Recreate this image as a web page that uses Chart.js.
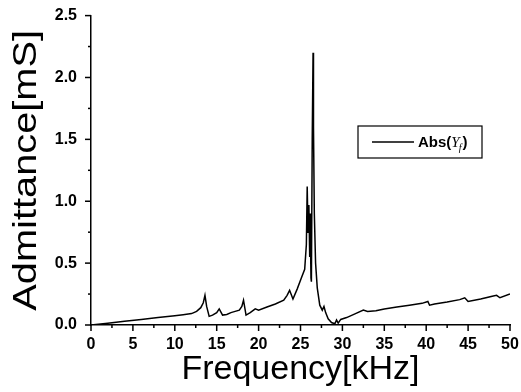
<!DOCTYPE html>
<html>
<head>
<meta charset="utf-8">
<script src="https://cdn.jsdelivr.net/npm/chart.js@4"></script>
<style>
  html, body { margin: 0; padding: 0; background: #fff; }
  #wrap { width: 521px; height: 392px; }
</style>
</head>
<body>
<div id="wrap"><canvas id="chart" width="521" height="392"></canvas></div>
<script>
// --- data ---

const FREQ_KHZ = [
  0, 2, 4, 6, 8, 10, 11, 12, 12.6, 13.1, 13.4, 13.6, 13.8, 14.1, 14.5, 15.0, 15.3, 15.7,
  16.2, 16.7, 17.2, 17.7, 18.0, 18.2, 18.5, 19.0, 19.6, 20.0, 21.0, 22.0, 23.0, 23.4,
  23.7, 24.1, 24.6, 25.1, 25.5, 25.7, 25.8, 25.9, 26.0, 26.1, 26.15, 26.25, 26.3, 26.4,
  26.5, 26.55, 26.65, 26.8, 27.0, 27.3, 27.6, 27.8, 28.0, 28.3, 28.7, 29.1, 29.3, 29.5,
  29.8, 30.5, 31.5, 32.5, 33.0, 34.0, 35.0, 36.5, 38.0, 39.5, 40.2, 40.4, 41.0, 42.5,
  44.0, 44.6, 45.0, 46.5, 48.0, 48.4, 48.8, 50
];

const ADMITTANCE_MS = [
  0, 0.015, 0.03, 0.045, 0.06, 0.075, 0.083, 0.092, 0.11, 0.14, 0.18, 0.24, 0.15, 0.07, 0.08, 0.1, 0.13, 0.08,
  0.085, 0.1, 0.11, 0.12, 0.15, 0.2, 0.08, 0.1, 0.13, 0.12, 0.145, 0.17, 0.2, 0.24,
  0.28, 0.21, 0.29, 0.38, 0.45, 0.65, 1.12, 0.75, 0.97, 0.55, 0.9, 0.38, 0.35, 1.5,
  2.2, 1.6, 0.9, 0.5, 0.3, 0.16, 0.12, 0.15, 0.1, 0.05, 0.02, 0.01, 0.04, 0.015,
  0.045, 0.06, 0.09, 0.12, 0.11, 0.115, 0.13, 0.145, 0.16, 0.175, 0.19, 0.16, 0.17, 0.185,
  0.205, 0.22, 0.19, 0.21, 0.235, 0.24, 0.22, 0.25
];

const X_TICKS = [0, 5, 10, 15, 20, 25, 30, 35, 40, 45, 50];
const Y_TICKS = [0.0, 0.5, 1.0, 1.5, 2.0, 2.5];
const Y_TITLE = "Admittance[mS]";
const SERIES_LABEL = "Abs(";

const TICK_FONT = { family: "Liberation Sans, Arial, sans-serif", size: 16, weight: "bold" };

// --- plugins ---

// outward major/minor tick marks along both axes
const tickMarks = {
  id: "tickMarks",
  afterDraw(chart) {
    const ctx = chart.ctx;
    const x = chart.scales.x;
    const y = chart.scales.y;
    const area = chart.chartArea;
    ctx.save();
    ctx.strokeStyle = "#000";
    ctx.lineWidth = 1.5;
    for (let v = 0; v <= 50; v += 2.5) {
      const px = x.getPixelForValue(v);
      const len = v % 5 === 0 ? 6 : 3;
      ctx.beginPath();
      ctx.moveTo(px, area.bottom);
      ctx.lineTo(px, area.bottom + len);
      ctx.stroke();
    }
    for (let v = 0; v <= 2.5001; v += 0.25) {
      const py = y.getPixelForValue(v);
      const len = Math.round(v * 100) % 50 === 0 ? 6 : 3;
      ctx.beginPath();
      ctx.moveTo(area.left, py);
      ctx.lineTo(area.left - len, py);
      ctx.stroke();
    }
    ctx.restore();
  }
};

// y title, slightly stretched along its length like the original
const yTitle = {
  id: "yTitle",
  afterDraw(chart) {
    const ctx = chart.ctx;
    const area = chart.chartArea;
    ctx.save();
    ctx.translate(27, (area.top + area.bottom) / 2);
    ctx.rotate(-Math.PI / 2);
    ctx.scale(1.17, 1);
    ctx.font = "34px Liberation Sans, Arial, sans-serif";
    ctx.fillStyle = "#000";
    ctx.textAlign = "center";
    ctx.textBaseline = "middle";
    ctx.fillText(Y_TITLE, 0, 0);
    ctx.restore();
  }
};

// boxed legend with italic Y and subscript f
const boxLegend = {
  id: "boxLegend",
  afterDraw(chart) {
    const ctx = chart.ctx;
    const bx = 358, by = 126, bw = 124, bh = 32;
    ctx.save();
    ctx.strokeStyle = "#000";
    ctx.lineWidth = 1.2;
    ctx.strokeRect(bx, by, bw, bh);
    ctx.lineWidth = 1.5;
    ctx.beginPath();
    ctx.moveTo(372, by + bh / 2);
    ctx.lineTo(414, by + bh / 2);
    ctx.stroke();
    ctx.fillStyle = "#000";
    ctx.textBaseline = "alphabetic";
    let tx = 418;
    const base = by + bh / 2 + 5;
    ctx.font = "bold 15px Liberation Sans, Arial, sans-serif";
    ctx.fillText(SERIES_LABEL, tx, base);
    tx += ctx.measureText(SERIES_LABEL).width;
    ctx.font = "italic 15px Liberation Serif, Times New Roman, serif";
    ctx.fillText("Y", tx, base);
    tx += ctx.measureText("Y").width - 1;
    ctx.font = "italic 10px Liberation Serif, Times New Roman, serif";
    ctx.fillText("f", tx, base + 4);
    tx += ctx.measureText("f").width + 1;
    ctx.font = "bold 15px Liberation Sans, Arial, sans-serif";
    ctx.fillText(")", tx, base);
    ctx.restore();
  }
};

// --- chart ---

const points = FREQ_KHZ.map(function (f, i) {
  return { x: f, y: ADMITTANCE_MS[i] };
});

new Chart(document.getElementById("chart"), {
  type: "line",
  data: {
    datasets: [{
      label: "Abs(Yf)",
      data: points,
      borderColor: "#000",
      borderWidth: 1.5,
      pointRadius: 0,
      tension: 0,
      fill: false
    }]
  },
  options: {
    responsive: false,
    animation: false,
    layout: { padding: { left: 0, right: 11, top: 15, bottom: 0 } },
    plugins: { legend: { display: false }, tooltip: { enabled: false } },
    scales: {
      x: {
        type: "linear",
        min: 0,
        max: 50,
        afterBuildTicks: function (scale) {
          scale.ticks = X_TICKS.map(function (v) { return { value: v }; });
        },
        afterFit: function (scale) { scale.height = 67; },
        grid: { display: false },
        border: { display: true, color: "#000", width: 1.5 },
        ticks: { color: "#000", font: TICK_FONT, padding: 2, maxRotation: 0 },
        title: {
          display: true,
          text: "Frequency[kHz]",
          color: "#000",
          font: { family: "Liberation Sans, Arial, sans-serif", size: 34 },
          padding: { top: 0, bottom: 2 }
        }
      },
      y: {
        type: "linear",
        min: 0,
        max: 2.5,
        afterBuildTicks: function (scale) {
          scale.ticks = Y_TICKS.map(function (v) { return { value: v }; });
        },
        afterFit: function (scale) { scale.width = 91; },
        grid: { display: false },
        border: { display: true, color: "#000", width: 1.5 },
        ticks: {
          color: "#000",
          font: TICK_FONT,
          padding: 6,
          callback: function (v) { return v.toFixed(1); }
        }
      }
    }
  },
  plugins: [tickMarks, yTitle, boxLegend]
});
</script>
</body>
</html>
